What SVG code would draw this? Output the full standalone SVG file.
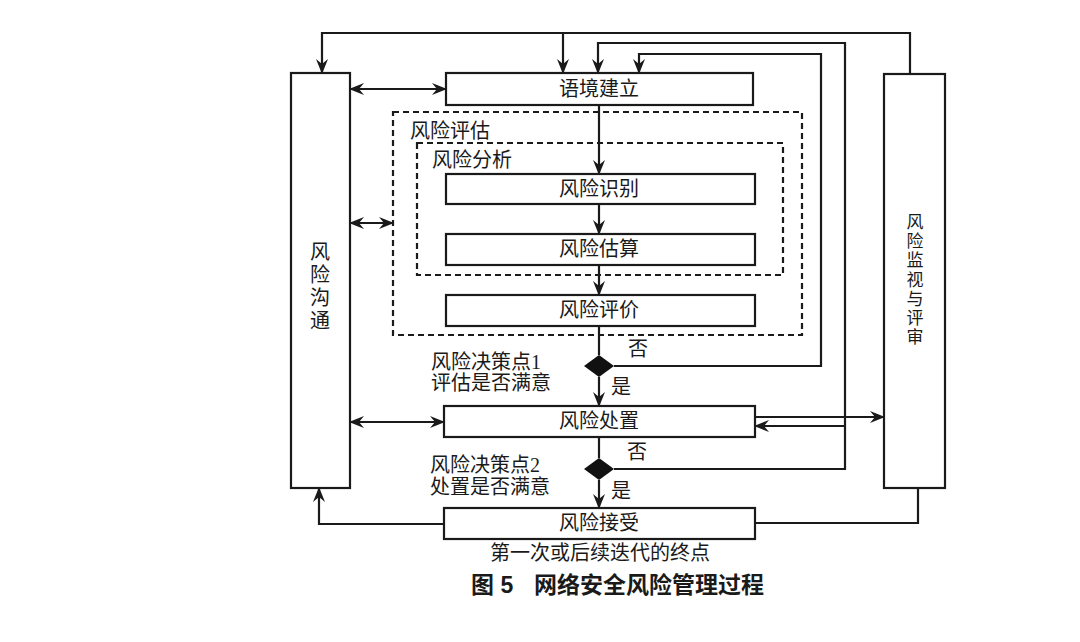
<svg xmlns="http://www.w3.org/2000/svg" width="1080" height="642" viewBox="0 0 1080 642">
<style>
.box{fill:#fff;stroke:#1a1a1a;stroke-width:2.2}
.dash{fill:none;stroke:#1a1a1a;stroke-width:2.2;stroke-dasharray:6,4}
.ln{fill:none;stroke:#1a1a1a;stroke-width:2.2}
.t{font-family:"Liberation Serif","Noto Sans CJK SC",serif;font-size:20px;fill:#1a1a1a}
.s{font-size:17px}
.c{text-anchor:middle;dominant-baseline:central}
.cap{font-family:"Liberation Sans","Noto Sans CJK SC",sans-serif;font-size:23px;font-weight:bold;fill:#1a1a1a}
.dia{fill:#111}
</style>
<defs>
<marker id="ah" viewBox="0 0 15 12" refX="14" refY="6" markerWidth="15" markerHeight="12" markerUnits="userSpaceOnUse" orient="auto-start-reverse">
<path d="M0,0 L15,6 L0,12 L5,6 z" fill="#1a1a1a"/>
</marker>
</defs>
<rect width="1080" height="642" fill="#fff"/>

<g id="comm"><rect class="box" x="291" y="73" width="59" height="415"/>
<text class="t c" x="320" y="252">风</text><text class="t c" x="320" y="275">险</text><text class="t c" x="320" y="298">沟</text><text class="t c" x="320" y="321">通</text></g>
<g id="monitor"><rect class="box" x="884" y="74" width="61" height="414"/>
<text class="t s c" x="915" y="222">风</text><text class="t s c" x="915" y="241">险</text><text class="t s c" x="915" y="260">监</text><text class="t s c" x="915" y="280">视</text><text class="t s c" x="915" y="299">与</text><text class="t s c" x="915" y="318">评</text><text class="t s c" x="915" y="337">审</text></g>

<g id="assess"><rect class="dash" x="393" y="112" width="409" height="223"/><text class="t" x="410" y="138">风险评估</text></g>
<g id="analysis"><rect class="dash" x="417" y="143" width="366" height="132"/><text class="t" x="432" y="167">风险分析</text></g>

<g id="context"><rect class="box" x="446" y="73" width="307" height="32"/><text class="t c" x="599" y="89">语境建立</text></g>
<g id="identify"><rect class="box" x="446" y="174" width="309" height="30"/><text class="t c" x="599" y="189">风险识别</text></g>
<g id="estimate"><rect class="box" x="446" y="234" width="309" height="31"/><text class="t c" x="599" y="249">风险估算</text></g>
<g id="evaluate"><rect class="box" x="446" y="295" width="309" height="31"/><text class="t c" x="599" y="310">风险评价</text></g>
<g id="treat"><rect class="box" x="444" y="406" width="311" height="31"/><text class="t c" x="599" y="421">风险处置</text></g>
<g id="accept"><rect class="box" x="444" y="508" width="311" height="31"/><text class="t c" x="599" y="523">风险接受</text></g>

<g id="d1"><path class="dia" d="M584,366 L599,355 L614,366 L599,377 z"/>
<text class="t" x="431" y="369">风险决策点1</text><text class="t" x="431" y="390">评估是否满意</text></g>
<g id="d2"><path class="dia" d="M584,469 L599,458 L614,469 L599,480 z"/>
<text class="t" x="430" y="472">风险决策点2</text><text class="t" x="430" y="494">处置是否满意</text></g>

<g id="connectors">
<path class="ln" d="M910,74 V33 H322 V73" marker-end="url(#ah)"/>
<path class="ln" d="M563,33 V73" marker-end="url(#ah)"/>
<path class="ln" d="M614,469 H845 V43 H598 V73" marker-end="url(#ah)"/>
<path class="ln" d="M614,366 H821 V54 H639 V73" marker-end="url(#ah)"/>
<path class="ln" d="M845,426 H755" marker-end="url(#ah)"/>
<path class="ln" d="M755,417 H884" marker-end="url(#ah)"/>
<path class="ln" d="M755,523 H918 V488"/>
<path class="ln" d="M444,524 H319 V488" marker-end="url(#ah)"/>
<path class="ln" d="M350,89 H446" marker-start="url(#ah)" marker-end="url(#ah)"/>
<path class="ln" d="M350,223 H393" marker-start="url(#ah)" marker-end="url(#ah)"/>
<path class="ln" d="M350,422 H444" marker-start="url(#ah)" marker-end="url(#ah)"/>
<path class="ln" d="M599,105 V174" marker-end="url(#ah)"/>
<path class="ln" d="M599,204 V234" marker-end="url(#ah)"/>
<path class="ln" d="M599,265 V295" marker-end="url(#ah)"/>
<path class="ln" d="M599,326 V355"/>
<path class="ln" d="M599,377 V406" marker-end="url(#ah)"/>
<path class="ln" d="M599,437 V458"/>
<path class="ln" d="M599,480 V508" marker-end="url(#ah)"/>
<text class="t" x="628" y="356">否</text>
<text class="t" x="611" y="394">是</text>
<text class="t" x="627" y="459">否</text>
<text class="t" x="611" y="498">是</text>
</g>

<text class="t c" x="600" y="553">第一次或后续迭代的终点</text>
<text class="cap" x="471" y="593">图 5</text>
<text class="cap" x="534" y="593">网络安全风险管理过程</text>
</svg>
